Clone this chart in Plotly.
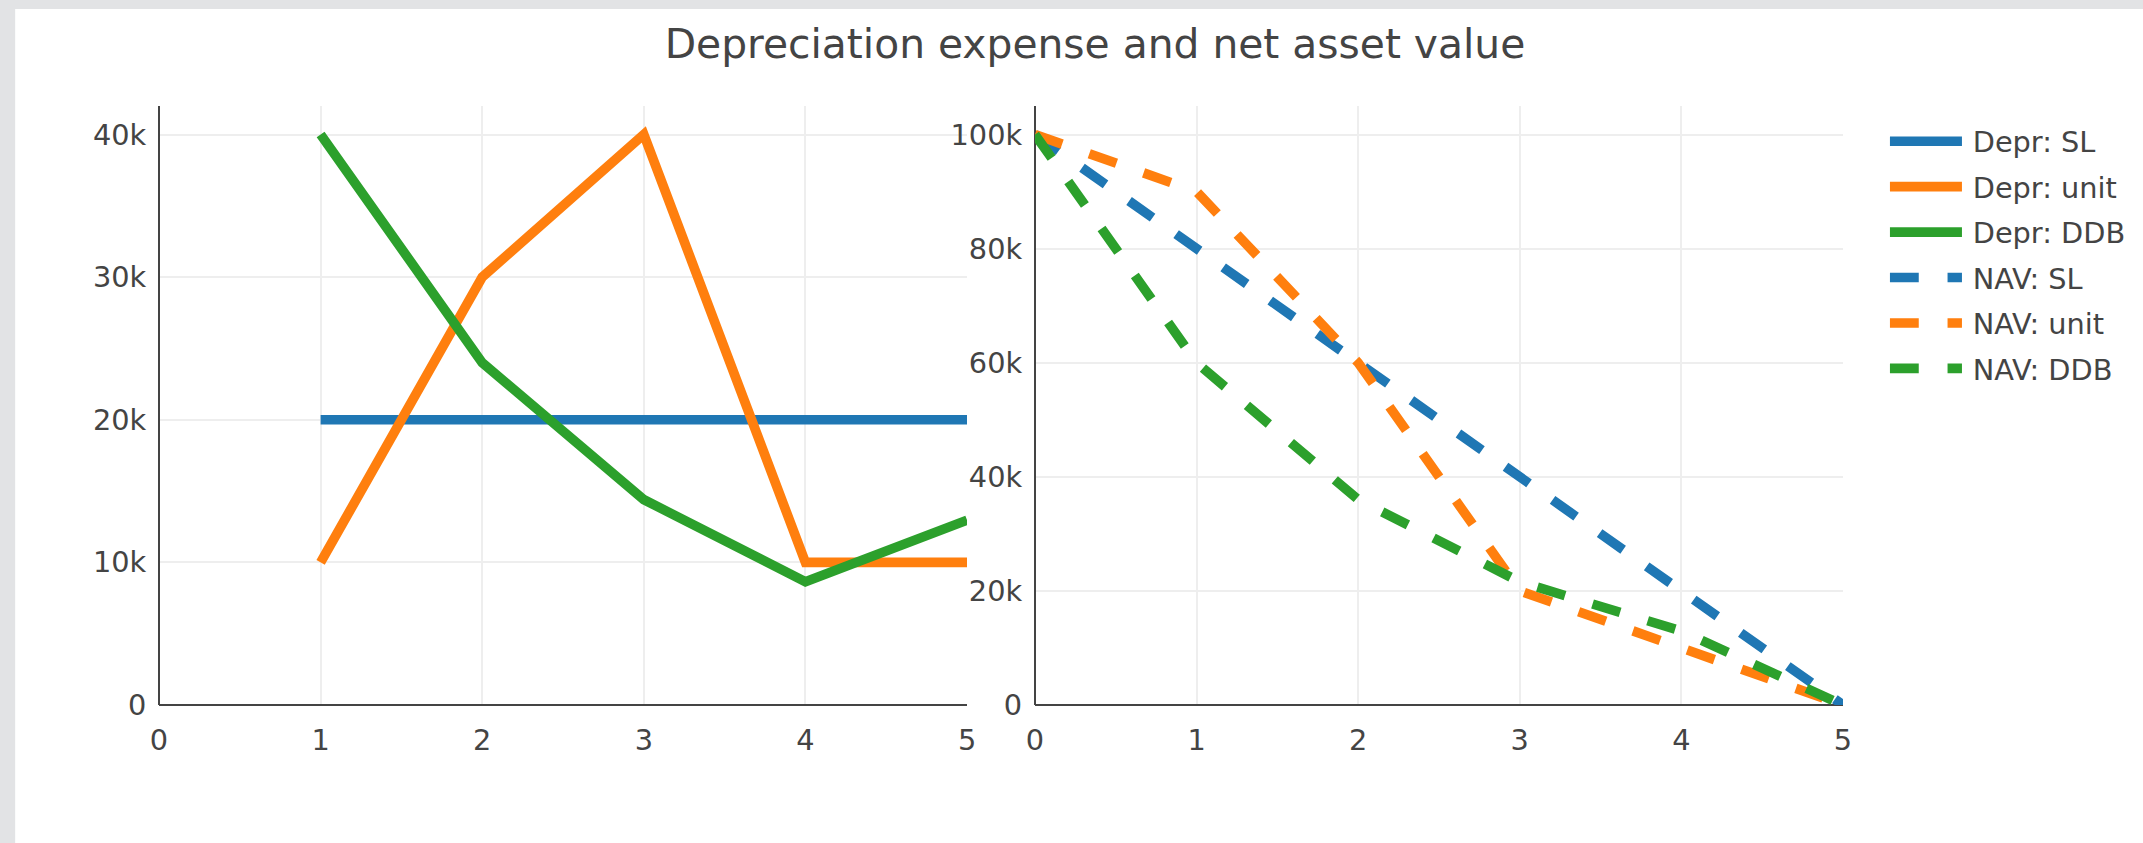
import plotly.graph_objects as go
from plotly.subplots import make_subplots

years_depr = [1, 2, 3, 4, 5]
years_nav = [0, 1, 2, 3, 4, 5]

depr_sl = [20000, 20000, 20000, 20000, 20000]
depr_unit = [10000, 30000, 40000, 10000, 10000]
depr_ddb = [40000, 24000, 14400, 8640, 12960]

nav_sl = [100000, 80000, 60000, 40000, 20000, 0]
nav_unit = [100000, 90000, 60000, 20000, 10000, 0]
nav_ddb = [100000, 60000, 36000, 21600, 12960, 0]

colors = ["#1f77b4", "#ff7f0e", "#2ca02c"]
methods = ["SL", "unit", "DDB"]

S = 2.4  # visual scale
W, H = 2143, 843
ml, mr, mt, mb = 159, 298, 106, 138
pw = W - ml - mr
ph = H - mt - mb

fig = make_subplots(rows=1, cols=2)
fig.update_layout(
    xaxis=dict(domain=[0, (968 - ml) / pw]),
    xaxis2=dict(domain=[(1036 - ml) / pw, 1]),
)

for name, ys, c in zip(methods, [depr_sl, depr_unit, depr_ddb], colors):
    fig.add_trace(go.Scatter(x=years_depr, y=ys, mode="lines", name="\u2009Depr: " + name,
                             legendgroup="d" + name,
                             line=dict(color=c, width=4 * S)), row=1, col=1)
for name, ys, c in zip(methods, [nav_sl, nav_unit, nav_ddb], colors):
    fig.add_trace(go.Scatter(x=years_nav, y=ys, mode="lines", name="\u2009NAV: " + name,
                             legendgroup="n" + name,
                             line=dict(color=c, width=4 * S, dash="dash")), row=1, col=2)

axis_common = dict(
    showgrid=True, gridcolor="#eee", gridwidth=1 * S,
    zeroline=True, zerolinecolor="#444", zerolinewidth=1 * S,
    showline=False, ticks="outside", tickcolor="rgba(0,0,0,0)",
    tickfont=dict(size=12 * S, color="#444", family="DejaVu Sans"),
)
fig.update_xaxes(**axis_common, range=[0, 5], dtick=1, ticklen=9)
fig.update_yaxes(**axis_common, ticklen=6)
fig.update_yaxes(range=[0, 42000], dtick=10000, row=1, col=1)
fig.update_yaxes(range=[0, 105000], dtick=20000, row=1, col=2)

# page background band
fig.add_shape(type="rect", xref="paper", yref="paper", layer="below",
              x0=(15 - ml) / pw, x1=(W + 20 - ml) / pw,
              y0=-(mb + 20) / ph, y1=1 + (mt - 9) / ph,
              fillcolor="white", line=dict(width=0))

fig.update_layout(
    width=W, height=H,
    margin=dict(l=ml, r=mr, t=mt, b=mb, pad=0),
    paper_bgcolor="#e2e3e5",
    plot_bgcolor="white",
    font=dict(family="DejaVu Sans", size=12 * S, color="#444"),
    title=dict(text="Depreciation expense and net asset value",
               font=dict(size=17 * S, color="#444", family="DejaVu Sans"),
               x=1095 / W, xanchor="center", y=1 - 44 / H, yanchor="middle"),
    legend=dict(x=(1892 - 5 - ml) / pw, xanchor="left", y=1 - 10 / ph, yanchor="top",
                font=dict(size=12 * S, color="#444"), itemwidth=72,
                traceorder="grouped", tracegroupgap=5,
                bgcolor="rgba(0,0,0,0)"),
    showlegend=True,
)

fig.write_html("out.html", config={"displayModeBar": False},
               post_script="document.body.style.margin='0';document.body.style.overflow='hidden';")
